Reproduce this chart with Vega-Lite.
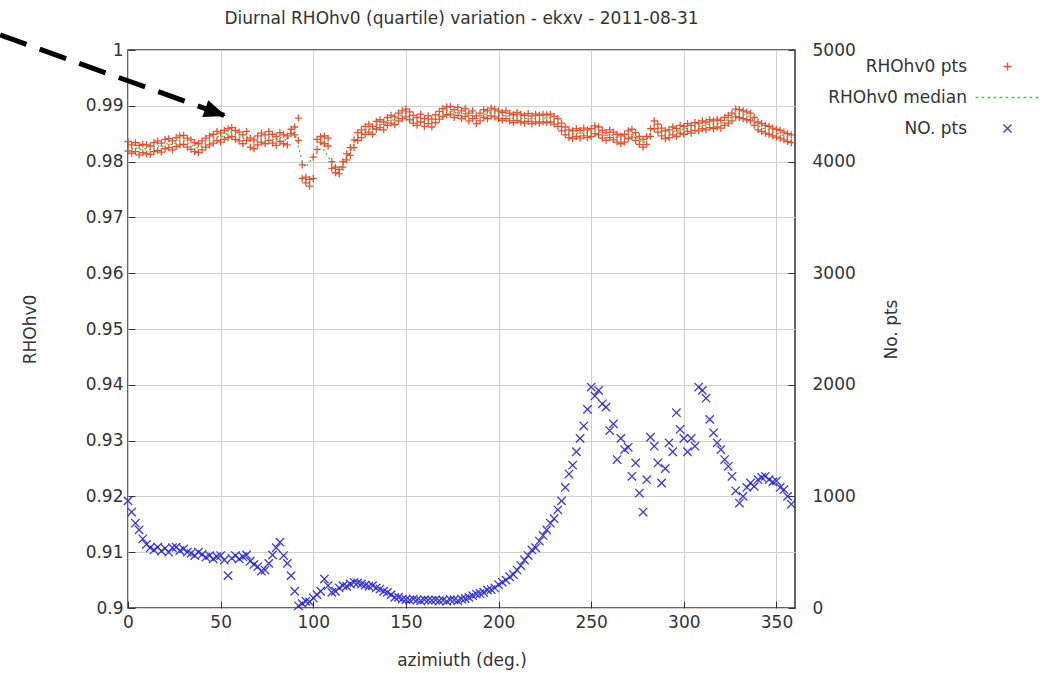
{
  "$schema": "https://vega.github.io/schema/vega-lite/v6.json",
  "width": 667,
  "height": 558,
  "autosize": {"type": "none"},
  "padding": {"left": 128, "top": 50, "right": 258, "bottom": 65},
  "title": {"text": "Diurnal RHOhv0 (quartile) variation - ekxv - 2011-08-31", "fontSize": 17, "font": "DejaVu Sans", "fontWeight": "normal", "color": "#333", "offset": -3, "anchor": "middle", "frame": "group"},
  "datasets": {
    "pts": [
      {"az":0,"lo":0.9819,"hi":0.9836,"med":0.9828,"n":960},
      {"az":2,"lo":0.9815,"hi":0.9830,"med":0.9822,"n":860},
      {"az":4,"lo":0.9818,"hi":0.9834,"med":0.9826,"n":760},
      {"az":6,"lo":0.9812,"hi":0.9829,"med":0.9820,"n":700},
      {"az":8,"lo":0.9816,"hi":0.9831,"med":0.9824,"n":620},
      {"az":10,"lo":0.9814,"hi":0.9830,"med":0.9822,"n":570},
      {"az":12,"lo":0.9813,"hi":0.9828,"med":0.9821,"n":540},
      {"az":14,"lo":0.9818,"hi":0.9834,"med":0.9826,"n":520},
      {"az":16,"lo":0.9820,"hi":0.9837,"med":0.9829,"n":545},
      {"az":18,"lo":0.9817,"hi":0.9833,"med":0.9825,"n":510},
      {"az":20,"lo":0.9823,"hi":0.9840,"med":0.9831,"n":535},
      {"az":22,"lo":0.9825,"hi":0.9841,"med":0.9833,"n":500},
      {"az":24,"lo":0.9821,"hi":0.9837,"med":0.9829,"n":540},
      {"az":26,"lo":0.9827,"hi":0.9843,"med":0.9835,"n":545},
      {"az":28,"lo":0.9830,"hi":0.9846,"med":0.9838,"n":515},
      {"az":30,"lo":0.9831,"hi":0.9847,"med":0.9839,"n":530},
      {"az":32,"lo":0.9826,"hi":0.9842,"med":0.9834,"n":500},
      {"az":34,"lo":0.9822,"hi":0.9839,"med":0.9831,"n":490},
      {"az":36,"lo":0.9818,"hi":0.9834,"med":0.9826,"n":470},
      {"az":38,"lo":0.9816,"hi":0.9832,"med":0.9824,"n":500},
      {"az":40,"lo":0.9821,"hi":0.9837,"med":0.9829,"n":480},
      {"az":42,"lo":0.9826,"hi":0.9842,"med":0.9834,"n":455},
      {"az":44,"lo":0.9830,"hi":0.9846,"med":0.9838,"n":470},
      {"az":46,"lo":0.9833,"hi":0.9849,"med":0.9841,"n":440},
      {"az":48,"lo":0.9838,"hi":0.9854,"med":0.9846,"n":460},
      {"az":50,"lo":0.9835,"hi":0.9851,"med":0.9843,"n":470},
      {"az":52,"lo":0.9840,"hi":0.9856,"med":0.9848,"n":430},
      {"az":54,"lo":0.9843,"hi":0.9859,"med":0.9851,"n":290},
      {"az":56,"lo":0.9845,"hi":0.9861,"med":0.9853,"n":445},
      {"az":58,"lo":0.9840,"hi":0.9856,"med":0.9848,"n":470},
      {"az":60,"lo":0.9837,"hi":0.9853,"med":0.9845,"n":440},
      {"az":62,"lo":0.9832,"hi":0.9848,"med":0.9840,"n":460},
      {"az":64,"lo":0.9838,"hi":0.9854,"med":0.9846,"n":475},
      {"az":66,"lo":0.9826,"hi":0.9842,"med":0.9834,"n":420},
      {"az":68,"lo":0.9823,"hi":0.9839,"med":0.9831,"n":390},
      {"az":70,"lo":0.9830,"hi":0.9846,"med":0.9838,"n":370},
      {"az":72,"lo":0.9835,"hi":0.9851,"med":0.9843,"n":330},
      {"az":74,"lo":0.9832,"hi":0.9848,"med":0.9840,"n":340},
      {"az":76,"lo":0.9838,"hi":0.9854,"med":0.9846,"n":400},
      {"az":78,"lo":0.9833,"hi":0.9849,"med":0.9841,"n":475},
      {"az":80,"lo":0.9829,"hi":0.9845,"med":0.9837,"n":540},
      {"az":82,"lo":0.9836,"hi":0.9852,"med":0.9844,"n":590},
      {"az":84,"lo":0.9832,"hi":0.9848,"med":0.9840,"n":470},
      {"az":86,"lo":0.9830,"hi":0.9846,"med":0.9838,"n":400},
      {"az":88,"lo":0.9850,"hi":0.9858,"med":0.9854,"n":290},
      {"az":90,"lo":0.9848,"hi":0.9862,"med":0.9852,"n":150},
      {"az":92,"lo":0.9838,"hi":0.9878,"med":0.9826,"n":20},
      {"az":94,"lo":0.9770,"hi":0.9794,"med":0.9800,"n":40},
      {"az":96,"lo":0.9762,"hi":0.9772,"med":0.9790,"n":60},
      {"az":98,"lo":0.9756,"hi":0.9768,"med":0.9800,"n":55},
      {"az":100,"lo":0.9770,"hi":0.9808,"med":0.9808,"n":90},
      {"az":102,"lo":0.9822,"hi":0.9840,"med":0.9815,"n":120},
      {"az":104,"lo":0.9835,"hi":0.9845,"med":0.9824,"n":150},
      {"az":106,"lo":0.9832,"hi":0.9846,"med":0.9820,"n":260},
      {"az":108,"lo":0.9828,"hi":0.9842,"med":0.9808,"n":200},
      {"az":110,"lo":0.9788,"hi":0.9800,"med":0.9800,"n":140},
      {"az":112,"lo":0.9780,"hi":0.9790,"med":0.9790,"n":150},
      {"az":114,"lo":0.9778,"hi":0.9786,"med":0.9784,"n":180},
      {"az":116,"lo":0.9790,"hi":0.9800,"med":0.9795,"n":200},
      {"az":118,"lo":0.9803,"hi":0.9814,"med":0.9808,"n":195},
      {"az":120,"lo":0.9811,"hi":0.9825,"med":0.9818,"n":215},
      {"az":122,"lo":0.9825,"hi":0.9839,"med":0.9832,"n":230},
      {"az":124,"lo":0.9838,"hi":0.9852,"med":0.9845,"n":225},
      {"az":126,"lo":0.9843,"hi":0.9857,"med":0.9850,"n":215},
      {"az":128,"lo":0.9849,"hi":0.9863,"med":0.9856,"n":205},
      {"az":130,"lo":0.9853,"hi":0.9867,"med":0.9860,"n":195},
      {"az":132,"lo":0.9849,"hi":0.9863,"med":0.9856,"n":200},
      {"az":134,"lo":0.9858,"hi":0.9872,"med":0.9865,"n":180},
      {"az":136,"lo":0.9861,"hi":0.9875,"med":0.9868,"n":170},
      {"az":138,"lo":0.9857,"hi":0.9871,"med":0.9864,"n":150},
      {"az":140,"lo":0.9865,"hi":0.9879,"med":0.9872,"n":140},
      {"az":142,"lo":0.9869,"hi":0.9883,"med":0.9876,"n":120},
      {"az":144,"lo":0.9866,"hi":0.9880,"med":0.9873,"n":95},
      {"az":146,"lo":0.9873,"hi":0.9887,"med":0.9880,"n":95},
      {"az":148,"lo":0.9877,"hi":0.9891,"med":0.9884,"n":80},
      {"az":150,"lo":0.9880,"hi":0.9894,"med":0.9887,"n":75},
      {"az":152,"lo":0.9875,"hi":0.9889,"med":0.9882,"n":70},
      {"az":154,"lo":0.9869,"hi":0.9883,"med":0.9876,"n":80},
      {"az":156,"lo":0.9865,"hi":0.9879,"med":0.9872,"n":72},
      {"az":158,"lo":0.9871,"hi":0.9885,"med":0.9878,"n":65},
      {"az":160,"lo":0.9863,"hi":0.9877,"med":0.9870,"n":75},
      {"az":162,"lo":0.9868,"hi":0.9882,"med":0.9875,"n":70},
      {"az":164,"lo":0.9862,"hi":0.9876,"med":0.9869,"n":68},
      {"az":166,"lo":0.9870,"hi":0.9884,"med":0.9877,"n":72},
      {"az":168,"lo":0.9876,"hi":0.9890,"med":0.9883,"n":65},
      {"az":170,"lo":0.9881,"hi":0.9895,"med":0.9888,"n":70},
      {"az":172,"lo":0.9884,"hi":0.9898,"med":0.9891,"n":60},
      {"az":174,"lo":0.9885,"hi":0.9899,"med":0.9892,"n":75},
      {"az":176,"lo":0.9879,"hi":0.9893,"med":0.9886,"n":72},
      {"az":178,"lo":0.9883,"hi":0.9897,"med":0.9890,"n":65},
      {"az":180,"lo":0.9877,"hi":0.9891,"med":0.9884,"n":80},
      {"az":182,"lo":0.9881,"hi":0.9895,"med":0.9888,"n":85},
      {"az":184,"lo":0.9873,"hi":0.9887,"med":0.9880,"n":95},
      {"az":186,"lo":0.9877,"hi":0.9891,"med":0.9884,"n":110},
      {"az":188,"lo":0.9868,"hi":0.9882,"med":0.9875,"n":125},
      {"az":190,"lo":0.9873,"hi":0.9887,"med":0.9880,"n":130},
      {"az":192,"lo":0.9879,"hi":0.9893,"med":0.9886,"n":140},
      {"az":194,"lo":0.9877,"hi":0.9891,"med":0.9884,"n":160},
      {"az":196,"lo":0.9882,"hi":0.9896,"med":0.9889,"n":165},
      {"az":198,"lo":0.9880,"hi":0.9894,"med":0.9887,"n":180},
      {"az":200,"lo":0.9877,"hi":0.9891,"med":0.9884,"n":210},
      {"az":202,"lo":0.9874,"hi":0.9888,"med":0.9881,"n":230},
      {"az":204,"lo":0.9877,"hi":0.9891,"med":0.9884,"n":250},
      {"az":206,"lo":0.9873,"hi":0.9887,"med":0.9880,"n":280},
      {"az":208,"lo":0.9870,"hi":0.9884,"med":0.9877,"n":300},
      {"az":210,"lo":0.9874,"hi":0.9888,"med":0.9881,"n":340},
      {"az":212,"lo":0.9871,"hi":0.9885,"med":0.9878,"n":380},
      {"az":214,"lo":0.9869,"hi":0.9883,"med":0.9876,"n":430},
      {"az":216,"lo":0.9872,"hi":0.9886,"med":0.9879,"n":470},
      {"az":218,"lo":0.9868,"hi":0.9882,"med":0.9875,"n":520},
      {"az":220,"lo":0.9871,"hi":0.9885,"med":0.9878,"n":540},
      {"az":222,"lo":0.9869,"hi":0.9883,"med":0.9876,"n":600},
      {"az":224,"lo":0.9871,"hi":0.9885,"med":0.9878,"n":650},
      {"az":226,"lo":0.9870,"hi":0.9884,"med":0.9877,"n":700},
      {"az":228,"lo":0.9871,"hi":0.9885,"med":0.9878,"n":760},
      {"az":230,"lo":0.9867,"hi":0.9881,"med":0.9874,"n":800},
      {"az":232,"lo":0.9863,"hi":0.9877,"med":0.9870,"n":880},
      {"az":234,"lo":0.9855,"hi":0.9869,"med":0.9862,"n":960},
      {"az":236,"lo":0.9848,"hi":0.9862,"med":0.9855,"n":1080},
      {"az":238,"lo":0.9843,"hi":0.9857,"med":0.9850,"n":1200},
      {"az":240,"lo":0.9841,"hi":0.9855,"med":0.9848,"n":1280},
      {"az":242,"lo":0.9845,"hi":0.9859,"med":0.9852,"n":1400},
      {"az":244,"lo":0.9842,"hi":0.9856,"med":0.9849,"n":1520},
      {"az":246,"lo":0.9846,"hi":0.9860,"med":0.9853,"n":1630},
      {"az":248,"lo":0.9843,"hi":0.9857,"med":0.9850,"n":1780},
      {"az":250,"lo":0.9845,"hi":0.9859,"med":0.9852,"n":1980},
      {"az":252,"lo":0.9850,"hi":0.9864,"med":0.9857,"n":1900},
      {"az":254,"lo":0.9848,"hi":0.9862,"med":0.9855,"n":1950},
      {"az":256,"lo":0.9842,"hi":0.9856,"med":0.9849,"n":1830},
      {"az":258,"lo":0.9838,"hi":0.9852,"med":0.9845,"n":1800},
      {"az":260,"lo":0.9843,"hi":0.9857,"med":0.9850,"n":1590},
      {"az":262,"lo":0.9839,"hi":0.9853,"med":0.9846,"n":1650},
      {"az":264,"lo":0.9835,"hi":0.9849,"med":0.9842,"n":1330},
      {"az":266,"lo":0.9832,"hi":0.9846,"med":0.9839,"n":1520},
      {"az":268,"lo":0.9835,"hi":0.9849,"med":0.9842,"n":1420},
      {"az":270,"lo":0.9841,"hi":0.9855,"med":0.9848,"n":1440},
      {"az":272,"lo":0.9844,"hi":0.9858,"med":0.9851,"n":1180},
      {"az":274,"lo":0.9838,"hi":0.9852,"med":0.9845,"n":1300},
      {"az":276,"lo":0.9831,"hi":0.9845,"med":0.9838,"n":1030},
      {"az":278,"lo":0.9826,"hi":0.9840,"med":0.9833,"n":860},
      {"az":280,"lo":0.9831,"hi":0.9845,"med":0.9838,"n":1150},
      {"az":282,"lo":0.9845,"hi":0.9859,"med":0.9852,"n":1530},
      {"az":284,"lo":0.9859,"hi":0.9873,"med":0.9866,"n":1450},
      {"az":286,"lo":0.9853,"hi":0.9867,"med":0.9860,"n":1300},
      {"az":288,"lo":0.9846,"hi":0.9860,"med":0.9853,"n":1120},
      {"az":290,"lo":0.9841,"hi":0.9855,"med":0.9848,"n":1250},
      {"az":292,"lo":0.9843,"hi":0.9857,"med":0.9850,"n":1480},
      {"az":294,"lo":0.9848,"hi":0.9862,"med":0.9855,"n":1400},
      {"az":296,"lo":0.9845,"hi":0.9859,"med":0.9852,"n":1750},
      {"az":298,"lo":0.9851,"hi":0.9865,"med":0.9858,"n":1600},
      {"az":300,"lo":0.9849,"hi":0.9863,"med":0.9856,"n":1520},
      {"az":302,"lo":0.9854,"hi":0.9868,"med":0.9861,"n":1400},
      {"az":304,"lo":0.9851,"hi":0.9865,"med":0.9858,"n":1520},
      {"az":306,"lo":0.9856,"hi":0.9870,"med":0.9863,"n":1450},
      {"az":308,"lo":0.9855,"hi":0.9869,"med":0.9862,"n":1980},
      {"az":310,"lo":0.9859,"hi":0.9873,"med":0.9866,"n":1950},
      {"az":312,"lo":0.9857,"hi":0.9871,"med":0.9864,"n":1880},
      {"az":314,"lo":0.9861,"hi":0.9875,"med":0.9868,"n":1690},
      {"az":316,"lo":0.9859,"hi":0.9873,"med":0.9866,"n":1570},
      {"az":318,"lo":0.9862,"hi":0.9876,"med":0.9869,"n":1480},
      {"az":320,"lo":0.9860,"hi":0.9874,"med":0.9867,"n":1420},
      {"az":322,"lo":0.9865,"hi":0.9879,"med":0.9872,"n":1330},
      {"az":324,"lo":0.9869,"hi":0.9883,"med":0.9876,"n":1270},
      {"az":326,"lo":0.9873,"hi":0.9887,"med":0.9880,"n":1180},
      {"az":328,"lo":0.9880,"hi":0.9894,"med":0.9887,"n":1050},
      {"az":330,"lo":0.9879,"hi":0.9893,"med":0.9886,"n":940},
      {"az":332,"lo":0.9877,"hi":0.9891,"med":0.9884,"n":1000},
      {"az":334,"lo":0.9875,"hi":0.9889,"med":0.9882,"n":1080},
      {"az":336,"lo":0.9873,"hi":0.9887,"med":0.9880,"n":1120},
      {"az":338,"lo":0.9865,"hi":0.9879,"med":0.9872,"n":1090},
      {"az":340,"lo":0.9857,"hi":0.9871,"med":0.9864,"n":1150},
      {"az":342,"lo":0.9854,"hi":0.9868,"med":0.9861,"n":1170},
      {"az":344,"lo":0.9851,"hi":0.9865,"med":0.9858,"n":1180},
      {"az":346,"lo":0.9849,"hi":0.9863,"med":0.9856,"n":1150},
      {"az":348,"lo":0.9846,"hi":0.9860,"med":0.9853,"n":1130},
      {"az":350,"lo":0.9844,"hi":0.9858,"med":0.9851,"n":1140},
      {"az":352,"lo":0.9842,"hi":0.9856,"med":0.9849,"n":1080},
      {"az":354,"lo":0.9839,"hi":0.9853,"med":0.9846,"n":1060},
      {"az":356,"lo":0.9836,"hi":0.9850,"med":0.9843,"n":1000},
      {"az":358,"lo":0.9834,"hi":0.9848,"med":0.9841,"n":930}
    ],
    "arrow": [
      {"az": -69, "v": 1.0027},
      {"az": 52.9, "v": 0.98817}
    ],
    "arrowTip": [
      {"az": 52.9, "v": 0.98817}
    ]
  },
  "layer": [
    {
      "layer": [
        {
          "data": {"name": "pts"},
          "mark": {"type": "line", "strokeWidth": 1.3, "strokeDash": [2, 3]},
          "encoding": {
            "x": {"field": "az", "type": "quantitative", "scale": {"domain": [0, 360], "nice": false, "zero": false}, "axis": {"title": "azimiuth (deg.)", "values": [0, 50, 100, 150, 200, 250, 300, 350], "grid": true}},
            "y": {"field": "med", "type": "quantitative", "scale": {"domain": [0.9, 1], "nice": false, "zero": false}, "title": "RHOhv0"},
            "color": {"datum": "RHOhv0 median", "type": "nominal", "scale": {"domain": ["RHOhv0 pts", "RHOhv0 median", "NO. pts"], "range": ["#e8401c", "#3cbf3c", "#2424e0"]}, "legend": {"title": null}}
          }
        },
        {
          "data": {"name": "pts"},
          "mark": {"type": "point", "filled": false, "size": 50, "strokeWidth": 1.3, "opacity": 0.9},
          "encoding": {
            "x": {"field": "az", "type": "quantitative", "scale": {"domain": [0, 360], "nice": false, "zero": false}},
            "y": {"field": "lo", "type": "quantitative", "scale": {"domain": [0.9, 1], "nice": false, "zero": false}, "title": "RHOhv0"},
            "color": {"datum": "RHOhv0 pts", "type": "nominal"},
            "shape": {"datum": "RHOhv0 pts", "type": "nominal", "scale": {"domain": ["RHOhv0 pts", "RHOhv0 median", "NO. pts"], "range": ["M-1,0L1,0M0,-1L0,1", "M-8,0L-7.3,0M-6.5,0L-5.8,0M-5,0L-4.3,0M-3.5,0L-2.8,0M-2,0L-1.3,0M-0.5,0L0.2,0M1,0L1.7,0M2.5,0L3.2,0M4,0L4.7,0M5.5,0L6.2,0M7,0L7.7,0", "M-1,-1L1,1M-1,1L1,-1"]}, "legend": {"title": null}}
          }
        },
        {
          "data": {"name": "pts"},
          "mark": {"type": "point", "filled": false, "size": 50, "strokeWidth": 1.3, "opacity": 0.9},
          "encoding": {
            "x": {"field": "az", "type": "quantitative", "scale": {"domain": [0, 360], "nice": false, "zero": false}},
            "y": {"field": "hi", "type": "quantitative", "scale": {"domain": [0.9, 1], "nice": false, "zero": false}, "title": "RHOhv0"},
            "color": {"datum": "RHOhv0 pts", "type": "nominal"},
            "shape": {"datum": "RHOhv0 pts", "type": "nominal"}
          }
        },
        {
          "data": {"name": "arrow"},
          "mark": {"type": "line", "color": "black", "strokeWidth": 5, "strokeDash": [28, 14], "strokeCap": "butt"},
          "encoding": {
            "x": {"field": "az", "type": "quantitative", "scale": {"domain": [0, 360], "nice": false, "zero": false}},
            "y": {"field": "v", "type": "quantitative", "scale": {"domain": [0.9, 1], "nice": false, "zero": false}, "title": "RHOhv0"}
          }
        },
        {
          "data": {"name": "arrowTip"},
          "mark": {"type": "point", "filled": true, "color": "black", "opacity": 1, "shape": "M0,0L-2,-0.8L-2,0.8Z", "size": 484, "angle": 19.7},
          "encoding": {
            "x": {"field": "az", "type": "quantitative", "scale": {"domain": [0, 360], "nice": false, "zero": false}},
            "y": {"field": "v", "type": "quantitative", "scale": {"domain": [0.9, 1], "nice": false, "zero": false}, "title": "RHOhv0"}
          }
        }
      ]
    },
    {
      "data": {"name": "pts"},
      "mark": {"type": "point", "filled": false, "size": 70, "strokeWidth": 1.3, "opacity": 0.9},
      "encoding": {
        "x": {"field": "az", "type": "quantitative", "scale": {"domain": [0, 360], "nice": false, "zero": false}},
        "y": {"field": "n", "type": "quantitative", "scale": {"domain": [0, 5000], "nice": false, "zero": false}, "axis": {"orient": "right", "title": "No. pts", "values": [0, 1000, 2000, 3000, 4000, 5000], "format": "d", "grid": false, "titleAngle": -90}},
        "color": {"datum": "NO. pts", "type": "nominal"},
        "shape": {"datum": "NO. pts", "type": "nominal"}
      }
    }
  ],
  "resolve": {"scale": {"y": "independent"}},
  "config": {
    "font": "DejaVu Sans",
    "view": {"stroke": "#333", "strokeWidth": 1.5},
    "axis": {
      "labelFont": "DejaVu Sans", "labelFontSize": 17, "labelColor": "#333", "labelFlush": false,
      "titleFont": "DejaVu Sans", "titleFontSize": 17, "titleFontWeight": "normal", "titleColor": "#333",
      "domain": false, "tickColor": "#333", "tickSize": -7, "tickWidth": 1,
      "gridColor": "#d0d0d0", "gridWidth": 1
    },
    "axisX": {"labelPadding": 13, "titlePadding": 22},
    "axisLeft": {"values": [0.9, 0.91, 0.92, 0.93, 0.94, 0.95, 0.96, 0.97, 0.98, 0.99, 1], "format": "~g", "labelPadding": 12, "titlePadding": 46, "grid": true},
    "axisRight": {"labelPadding": 24, "titlePadding": 45},
    "legend": {
      "orient": "none", "legendX": 871, "legendY": 8,
      "labelFont": "DejaVu Sans", "labelFontSize": 17, "labelColor": "#333",
      "labelAlign": "right", "labelOffset": -49, "rowPadding": 13,
      "symbolSize": 64, "symbolStrokeWidth": 1.4, "symbolFillColor": "transparent"
    }
  }
}
